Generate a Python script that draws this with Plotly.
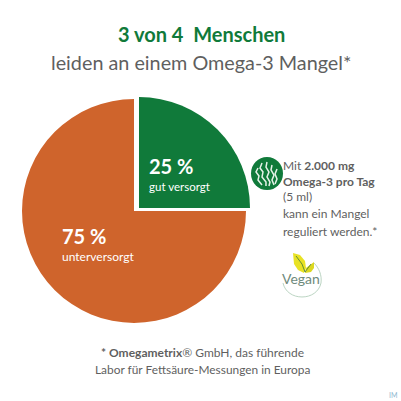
import plotly.graph_objects as go

# Werte aus dem Bild
anteile = [25, 75]
farben_orange = ['rgba(0,0,0,0)', '#cf642c']
farben_gruen = ['#107a3a', 'rgba(0,0,0,0)']

GROESSE = 401
GRAU = '#5f5f5f'
GRUEN = '#107a3a'
SCHRIFT = 'Lato'


def px(v):
    return v / GROESSE


def py(v):
    return 1 - v / GROESSE


def text(x, y, t, size, color=GRAU, anchor='center'):
    return dict(x=px(x), y=py(y), xref='paper', yref='paper', text=t, showarrow=False,
                xanchor=anchor, yanchor='middle',
                font=dict(family=SCHRIFT, size=size, color=color))


def kreis(x0, y0, x1, y1, **kw):
    return dict(type='circle', xref='paper', yref='paper',
                x0=px(x0), x1=px(x1), y0=py(y1), y1=py(y0), **kw)


def pfad(punkte, close=False, **kw):
    d = 'M' + ' L'.join(f'{px(x):.4f},{py(y):.4f}' for x, y in punkte)
    if close:
        d += ' Z'
    return dict(type='path', xref='paper', yref='paper', path=d, **kw)


fig = go.Figure()

# Orange Torte, 25 % bleibt frei
fig.add_trace(go.Pie(values=anteile, labels=['gut versorgt', 'unterversorgt'], sort=False,
                     direction='clockwise', rotation=0, textinfo='none', hoverinfo='none',
                     marker=dict(colors=farben_orange, line=dict(width=0)),
                     domain=dict(x=[px(22), px(246)], y=[py(323), py(99)]), showlegend=False))

# Gruenes Viertel, leicht nach oben rechts versetzt
fig.add_trace(go.Pie(values=anteile, labels=['gut versorgt', 'unterversorgt'], sort=False,
                     direction='clockwise', rotation=0, textinfo='none', hoverinfo='none',
                     marker=dict(colors=farben_gruen, line=dict(width=0)),
                     domain=dict(x=[px(28), px(250)], y=[py(319), py(97)]), showlegend=False))

annotations = [
    text(201, 34, '<b>3 von 4  Menschen</b>', 20, GRUEN),
    text(201, 62, 'leiden an einem Omega-3 Mangel*', 19.8),
    text(147, 166, '<b>25 %</b>', 20, 'white', 'left'),
    text(147, 186, 'gut versorgt', 11.5, 'white', 'left'),
    text(60, 236, '<b>75 %</b>', 20, 'white', 'left'),
    text(60, 256, 'unterversorgt', 12, 'white', 'left'),
    text(281, 165, 'Mit <b>2.000 mg</b>', 12, anchor='left'),
    text(281, 181, '<b>Omega-3 pro Tag</b>', 12, anchor='left'),
    text(281, 197, '(5 ml)', 12, anchor='left'),
    text(281, 214, 'kann ein Mangel', 12, anchor='left'),
    text(281, 231, 'reguliert werden.*', 12, anchor='left'),
    text(301, 278, 'Vegan', 14, '#6f8a7c'),
    text(202, 352, '<b>* Omegametrix</b>® GmbH, das führende', 12),
    text(202, 369, 'Labor für Fettsäure-Messungen in Europa', 11.9),
    text(393, 395, 'IM', 7, '#8fb8d0'),
]

shapes = [
    kreis(251, 157, 283, 190, fillcolor=GRUEN, line_width=0),
]

# Bogen um den Vegan-Schriftzug, oben offen
bogen = f'M{px(283):.4f},{py(283):.4f} C{px(285):.4f},{py(292):.4f} {px(293):.4f},{py(297):.4f} {px(302):.4f},{py(297):.4f} ' \
        f'C{px(311):.4f},{py(297):.4f} {px(319):.4f},{py(292):.4f} {px(321):.4f},{py(283):.4f} ' \
        f'C{px(322):.4f},{py(275):.4f} {px(319):.4f},{py(268):.4f} {px(314):.4f},{py(263):.4f}'
shapes.append(dict(type='path', xref='paper', yref='paper', path=bogen,
                   line=dict(color='#a9c9b2', width=0.8)))

# Algen im Icon
for halm in [
    [(258, 168), (256, 172), (259, 176), (258, 180), (262, 185)],
    [(262, 163), (260, 168), (263, 172), (262, 177), (266, 182), (266, 186)],
    [(267, 162), (266, 167), (269, 172), (267, 177), (270, 182), (269, 186)],
    [(272, 165), (271, 170), (274, 175), (272, 180), (274, 185)],
    [(277, 169), (275, 174), (277, 179), (275, 184)],
]:
    shapes.append(pfad(halm, line=dict(color='#e6f2e8', width=1.5)))

# Blaetter ueber dem Vegan-Schriftzug
shapes.append(pfad([(293, 253), (300, 255), (305, 261), (306, 268), (304, 273), (298, 270), (294, 264)], close=True,
                   fillcolor='#e8e225', line_width=0))
shapes.append(pfad([(305, 273), (306, 268), (310, 265), (314, 262), (314, 268), (311, 272)], close=True,
                   fillcolor='#dcd820', line_width=0))
shapes.append(pfad([(296, 256), (302, 264), (305, 272), (311, 264)],
                   line=dict(color='#3d7a3a', width=0.8)))

fig.update_layout(width=GROESSE, height=GROESSE, margin=dict(l=0, r=0, t=0, b=0),
                  paper_bgcolor='white', plot_bgcolor='white',
                  annotations=annotations, shapes=shapes)

# Seitenrand des Browsers entfernen
fig.write_html('out.html', config=dict(displayModeBar=False),
               post_script="document.body.style.margin='0';document.body.style.overflow='hidden';")
